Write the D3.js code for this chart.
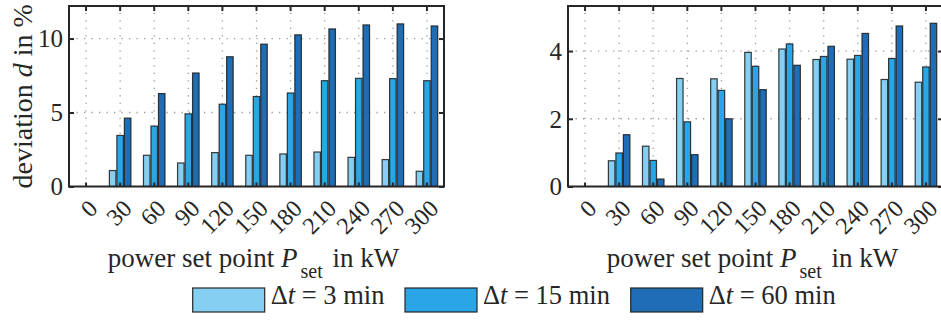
<!DOCTYPE html>
<html><head><meta charset="utf-8">
<script src="https://cdn.jsdelivr.net/npm/d3@7"></script>
<style>body{margin:0;background:#fff}svg{display:block}text{font-family:"Liberation Serif","Times New Roman",serif;fill:#262626}</style>
</head><body>
<script>
const categories = ["0","30","60","90","120","150","180","210","240","270","300"];
const seriesNames = ["3 min","15 min","60 min"];
const colors = ["#85CFF2","#2AA6E6","#1E6DB5"];
// left panel: deviation d in %
const leftDt3  = [0,1.08,2.11,1.59,2.29,2.11,2.20,2.33,1.97,1.82,1.03];
const leftDt15 = [0,3.45,4.08,4.91,5.56,6.08,6.32,7.15,7.31,7.29,7.15];
const leftDt60 = [0,4.62,6.28,7.67,8.77,9.62,10.25,10.65,10.92,10.99,10.85];
// right panel
const rightDt3  = [0,0.76,1.19,3.19,3.18,3.96,4.06,3.75,3.76,3.16,3.08];
const rightDt15 = [0,0.99,0.77,1.91,2.84,3.55,4.21,3.84,3.87,3.78,3.53];
const rightDt60 = [0,1.53,0.22,0.94,2.00,2.86,3.58,4.14,4.52,4.74,4.82];
const leftTicks = [0,5,10];
const rightTicks = [0,2,4];

const W=941,H=322;
const svg = d3.select("body").append("svg").attr("width",W).attr("height",H);

function panel(x0,x1,ymax,data,ticks,showYLabel){
  const yb=186.5, yt=6;
  const x = d3.scaleBand().domain(categories).range([x0,x1]).padding(0);
  const y = d3.scaleLinear().domain([0,ymax]).range([yb,yt]);
  const gw = 21.5;
  const xs = d3.scaleBand().domain(seriesNames).range([-gw/2,gw/2]).paddingInner(0.133);
  const g = svg.append("g");
  const cx = c => x(c)+x.bandwidth()/2;
  // grid
  const grid = g.append("g").attr("stroke","#9a9a9a").attr("stroke-width",1.3).attr("stroke-dasharray","1.3,6.2");
  categories.forEach(c=>grid.append("line").attr("x1",cx(c)).attr("x2",cx(c)).attr("y1",yb).attr("y2",yt));
  ticks.filter(t=>t>0).forEach(t=>grid.append("line").attr("x1",x0).attr("x2",x1).attr("y1",y(t)).attr("y2",y(t)));
  // bars
  data.forEach((vals,si)=>{
    g.append("g").selectAll("rect").data(vals.map((v,i)=>({c:categories[i],v})).filter(d=>d.v>0)).join("rect")
      .attr("x",d=>cx(d.c)+xs(seriesNames[si])).attr("width",xs.bandwidth())
      .attr("y",d=>y(d.v)).attr("height",d=>y(0)-y(d.v))
      .attr("fill",colors[si]).attr("stroke","#1a1a1a").attr("stroke-width",1.2).attr("stroke-opacity",0.85);
  });
  // axes with inward ticks
  const axB = d3.axisBottom(x).tickSize(-4).tickFormat("");
  const axT = d3.axisTop(x).tickSize(-5).tickFormat("");
  const axL = d3.axisLeft(y).tickValues(ticks).tickSize(-5).tickFormat("");
  const axR = d3.axisRight(y).tickValues(ticks).tickSize(-5).tickFormat("");
  [[axB,`translate(0,${yb})`],[axT,`translate(0,${yt})`],[axL,`translate(${x0},0)`],[axR,`translate(${x1},0)`]].forEach(([a,t])=>{
    const ag=g.append("g").attr("transform",t).call(a);
    ag.select(".domain").remove();
    ag.selectAll("line").attr("stroke","#262626").attr("stroke-width",2);
  });
  g.append("rect").attr("x",x0).attr("y",yt).attr("width",x1-x0).attr("height",yb-yt)
    .attr("fill","none").attr("stroke","#262626").attr("stroke-width",2);
  // y tick labels
  ticks.forEach(t=>g.append("text").attr("x",x0-6).attr("y",y(t)).attr("dy","0.35em")
    .attr("text-anchor","end").attr("font-size",25).text(t));
  // x tick labels rotated
  categories.forEach(c=>g.append("text").attr("text-anchor","end").attr("font-size",24)
    .attr("transform",`translate(${cx(c)+13},210) rotate(-45)`).text(c));
  // x label
  const xl = g.append("text").attr("x",(x0+x1)/2-3).attr("y",266.5).attr("text-anchor","middle").attr("font-size",27);
  xl.append("tspan").text("power set point ");
  xl.append("tspan").attr("font-style","italic").text("P");
  xl.append("tspan").attr("font-size",20).attr("dy",11).attr("dx",3).text("set");
  xl.append("tspan").attr("dy",-11).attr("dx",3).text(" in kW");
  if(showYLabel){
    const yl = g.append("text").attr("transform",`translate(31.5,${(yb+yt)/2}) rotate(-90)`)
      .attr("text-anchor","middle").attr("font-size",28);
    yl.append("tspan").text("deviation ");
    yl.append("tspan").attr("font-style","italic").text("d");
    yl.append("tspan").text(" in %");
  }
}
panel(69,444,12.2,[leftDt3,leftDt15,leftDt60],leftTicks,true);
panel(568,943,5.33,[rightDt3,rightDt15,rightDt60],rightTicks,false);

// legend
const legX=[192.7,405,630.7];
const lg = svg.append("g");
seriesNames.forEach((s,i)=>{
  lg.append("rect").attr("x",legX[i]).attr("y",288).attr("width",72).attr("height",24)
    .attr("fill",colors[i]).attr("stroke","#262626").attr("stroke-width",1.2);
  const t = lg.append("text").attr("x",legX[i]+78).attr("y",303.5).attr("font-size",26.5);
  t.append("tspan").text("Δ");
  t.append("tspan").attr("font-style","italic").text("t");
  t.append("tspan").text(" = "+s);
});
</script>
</body></html>
